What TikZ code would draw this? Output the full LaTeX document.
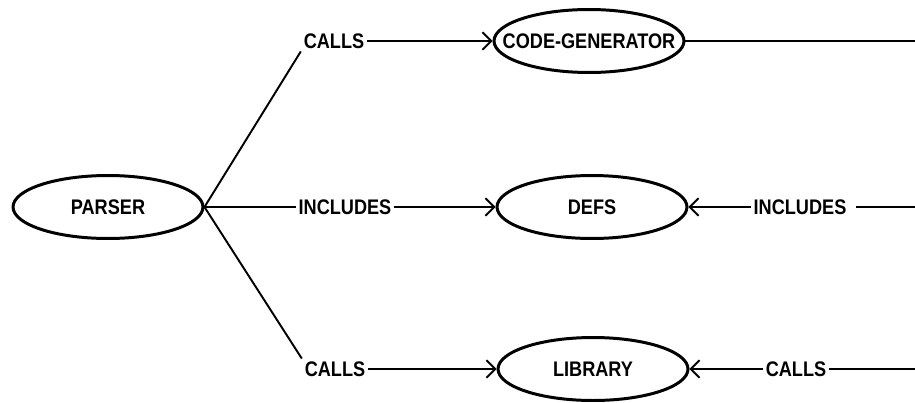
\documentclass[tikz,border=0pt]{standalone}
\usepackage{fontspec}
\setmainfont{Liberation Sans}[FakeStretch=0.86]
\usetikzlibrary{shapes.geometric, positioning, arrows.meta}

\begin{document}
\begin{tikzpicture}[x=0.02cm, y=-0.02cm,
    module/.style={ellipse, draw, line width=1.7pt, minimum width=3.8cm,
        minimum height=1.26cm, inner sep=0pt, font=\fontsize{12}{14}\selectfont\bfseries},
    rel/.style={font=\fontsize{12}{14}\selectfont\bfseries, inner sep=1.5pt},
    link/.style={line width=1.1pt},
    arr/.style={link, -{Straight Barb[length=5pt,width=10pt]}}]
\useasboundingbox (0,0) rectangle (915,402);

\node[module] (parser) at (108,207) {PARSER};
\node[module] (codegen) at (589,41) {\makebox[0pt]{CODE-GENERATOR}};
\node[module] (defs) at (592,207) {DEFS};
\node[module] (library) at (593,369) {LIBRARY};

\node[rel] (calls1) at (334,41) {CALLS};
\node[rel] (incl1) at (345,207) {INCLUDES};
\node[rel] (calls2) at (335,369) {CALLS};
\node[rel] (incl2) at (800,207) {INCLUDES};
\node[rel] (calls3) at (796,369) {CALLS};

\coordinate (out1) at (915,41);
\coordinate (out2) at (915,207);
\coordinate (out3) at (915,369);

\draw[link] (parser.east) -- (calls1.south west);
\draw[link] (parser.east) -- (incl1.west);
\draw[link] (parser.east) -- (calls2.north west);
\draw[arr] (calls1.east) -- (codegen.west);
\draw[arr] (incl1.east) -- (defs.west);
\draw[arr] (calls2.east) -- (library.west);

\draw[link] (codegen.east) -- (out1);
\draw[link] (out2) -- ([xshift=4pt]incl2.east);
\draw[arr] (incl2.west) -- (defs.east);
\draw[link] (out3) -- (calls3.east);
\draw[arr] (calls3.west) -- (library.east);
\end{tikzpicture}
\end{document}
